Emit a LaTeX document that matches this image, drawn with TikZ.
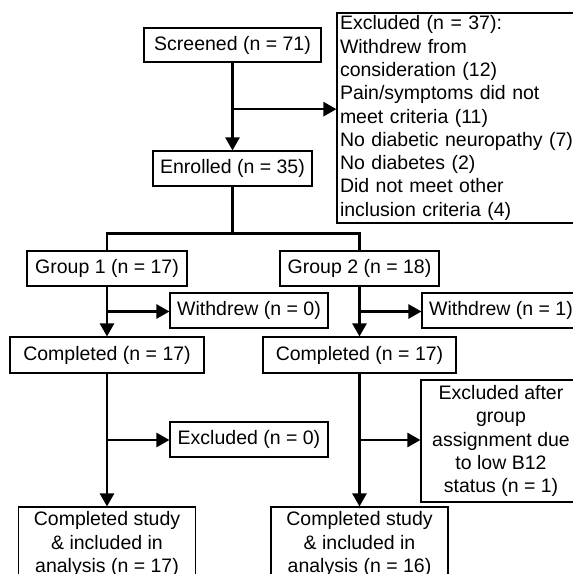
\documentclass[tikz,border=0pt]{standalone}
\usepackage{fontspec}
\setmainfont{Liberation Sans}
\usetikzlibrary{arrows.meta,calc}
\begin{document}
\begin{tikzpicture}[x=1pt,y=-1pt,
  box/.style={draw, line width=1.1pt, inner sep=0pt, font=\fontsize{19.5}{23.3}\selectfont, align=center},
  conn/.style={line width=2.6pt},
  arr/.style={conn, -{Triangle[length=13pt,width=14pt]}}]
\useasboundingbox (0,0) rectangle (573,574);
\clip (0,0) rectangle (573,574);
% nodes
\node[box, minimum width=177pt, minimum height=34pt] (scr) at (232.5,45) {Screened (n = 71)};
\node[box, minimum width=159pt, minimum height=35pt] (enr) at (232.5,168.5) {Enrolled (n = 35)};
\node[box, minimum width=243pt, minimum height=210pt, align=left, text width=237pt] (exc) at (458.5,118)
  {Excluded (n = 37):\\Withdrew from\\consideration (12)\\Pain/symptoms did not\\meet criteria (11)\\No diabetic neuropathy (7)\\No diabetes (2)\\Did not meet other\\inclusion criteria (4)};
\node[box, minimum width=160pt, minimum height=35pt] (g1) at (107,268.5) {Group 1 (n = 17)};
\node[box, minimum width=159pt, minimum height=35pt] (g2) at (359.5,268.5) {Group 2 (n = 18)};
\node[box, minimum width=158pt, minimum height=35pt] (w0) at (249,310.5) {Withdrew (n = 0)};
\node[box, minimum width=158pt, minimum height=35pt] (w1) at (501,310.5) {Withdrew (n = 1)};
\node[box, minimum width=194pt, minimum height=36pt] (c1) at (107,355) {Completed (n = 17)};
\node[box, minimum width=193pt, minimum height=36pt] (c2) at (359.5,355) {Completed (n = 17)};
\node[box, minimum width=158pt, minimum height=35pt] (e0) at (249,439.5) {Excluded (n = 0)};
\node[box, minimum width=160pt, minimum height=122pt] (ea) at (501,441)
  {Excluded after\\group\\assignment due\\to low B12\\status (n = 1)};
\node[box, minimum width=177pt, minimum height=74pt] (s1) at (107,544) {Completed study\\\& included in\\analysis (n = 17)};
\node[box, minimum width=177pt, minimum height=74pt] (s2) at (359.5,544) {Completed study\\\& included in\\analysis (n = 16)};
% connectors
\coordinate (b0) at ($(scr.south)!0.53!(enr.north)$);
\draw[arr] (scr.south) -- (enr.north);
\draw[arr] (b0) -- (b0 -| exc.west);
\coordinate (split) at ($(enr.south)+(0,47)$);
\draw[conn] (enr.south) -- (split);
\draw[conn] (g1.north) |- (split) -| (g2.north);
\coordinate (b1) at ($(g1.south)!0.5!(c1.north)$);
\draw[arr] (g1.south) -- (c1.north);
\draw[arr] (b1) -- (b1 -| w0.west);
\coordinate (b2) at ($(g2.south)!0.5!(c2.north)$);
\draw[arr] (g2.south) -- (c2.north);
\draw[arr] (b2) -- (b2 -| w1.west);
\coordinate (b3) at ($(c1.south)!0.5!(s1.north)$);
\draw[arr] (c1.south) -- (s1.north);
\draw[arr] (b3) -- (b3 -| e0.west);
\coordinate (b4) at ($(c2.south)!0.5!(s2.north)$);
\draw[arr] (c2.south) -- (s2.north);
\draw[arr] (b4) -- (b4 -| ea.west);
\end{tikzpicture}
\end{document}
